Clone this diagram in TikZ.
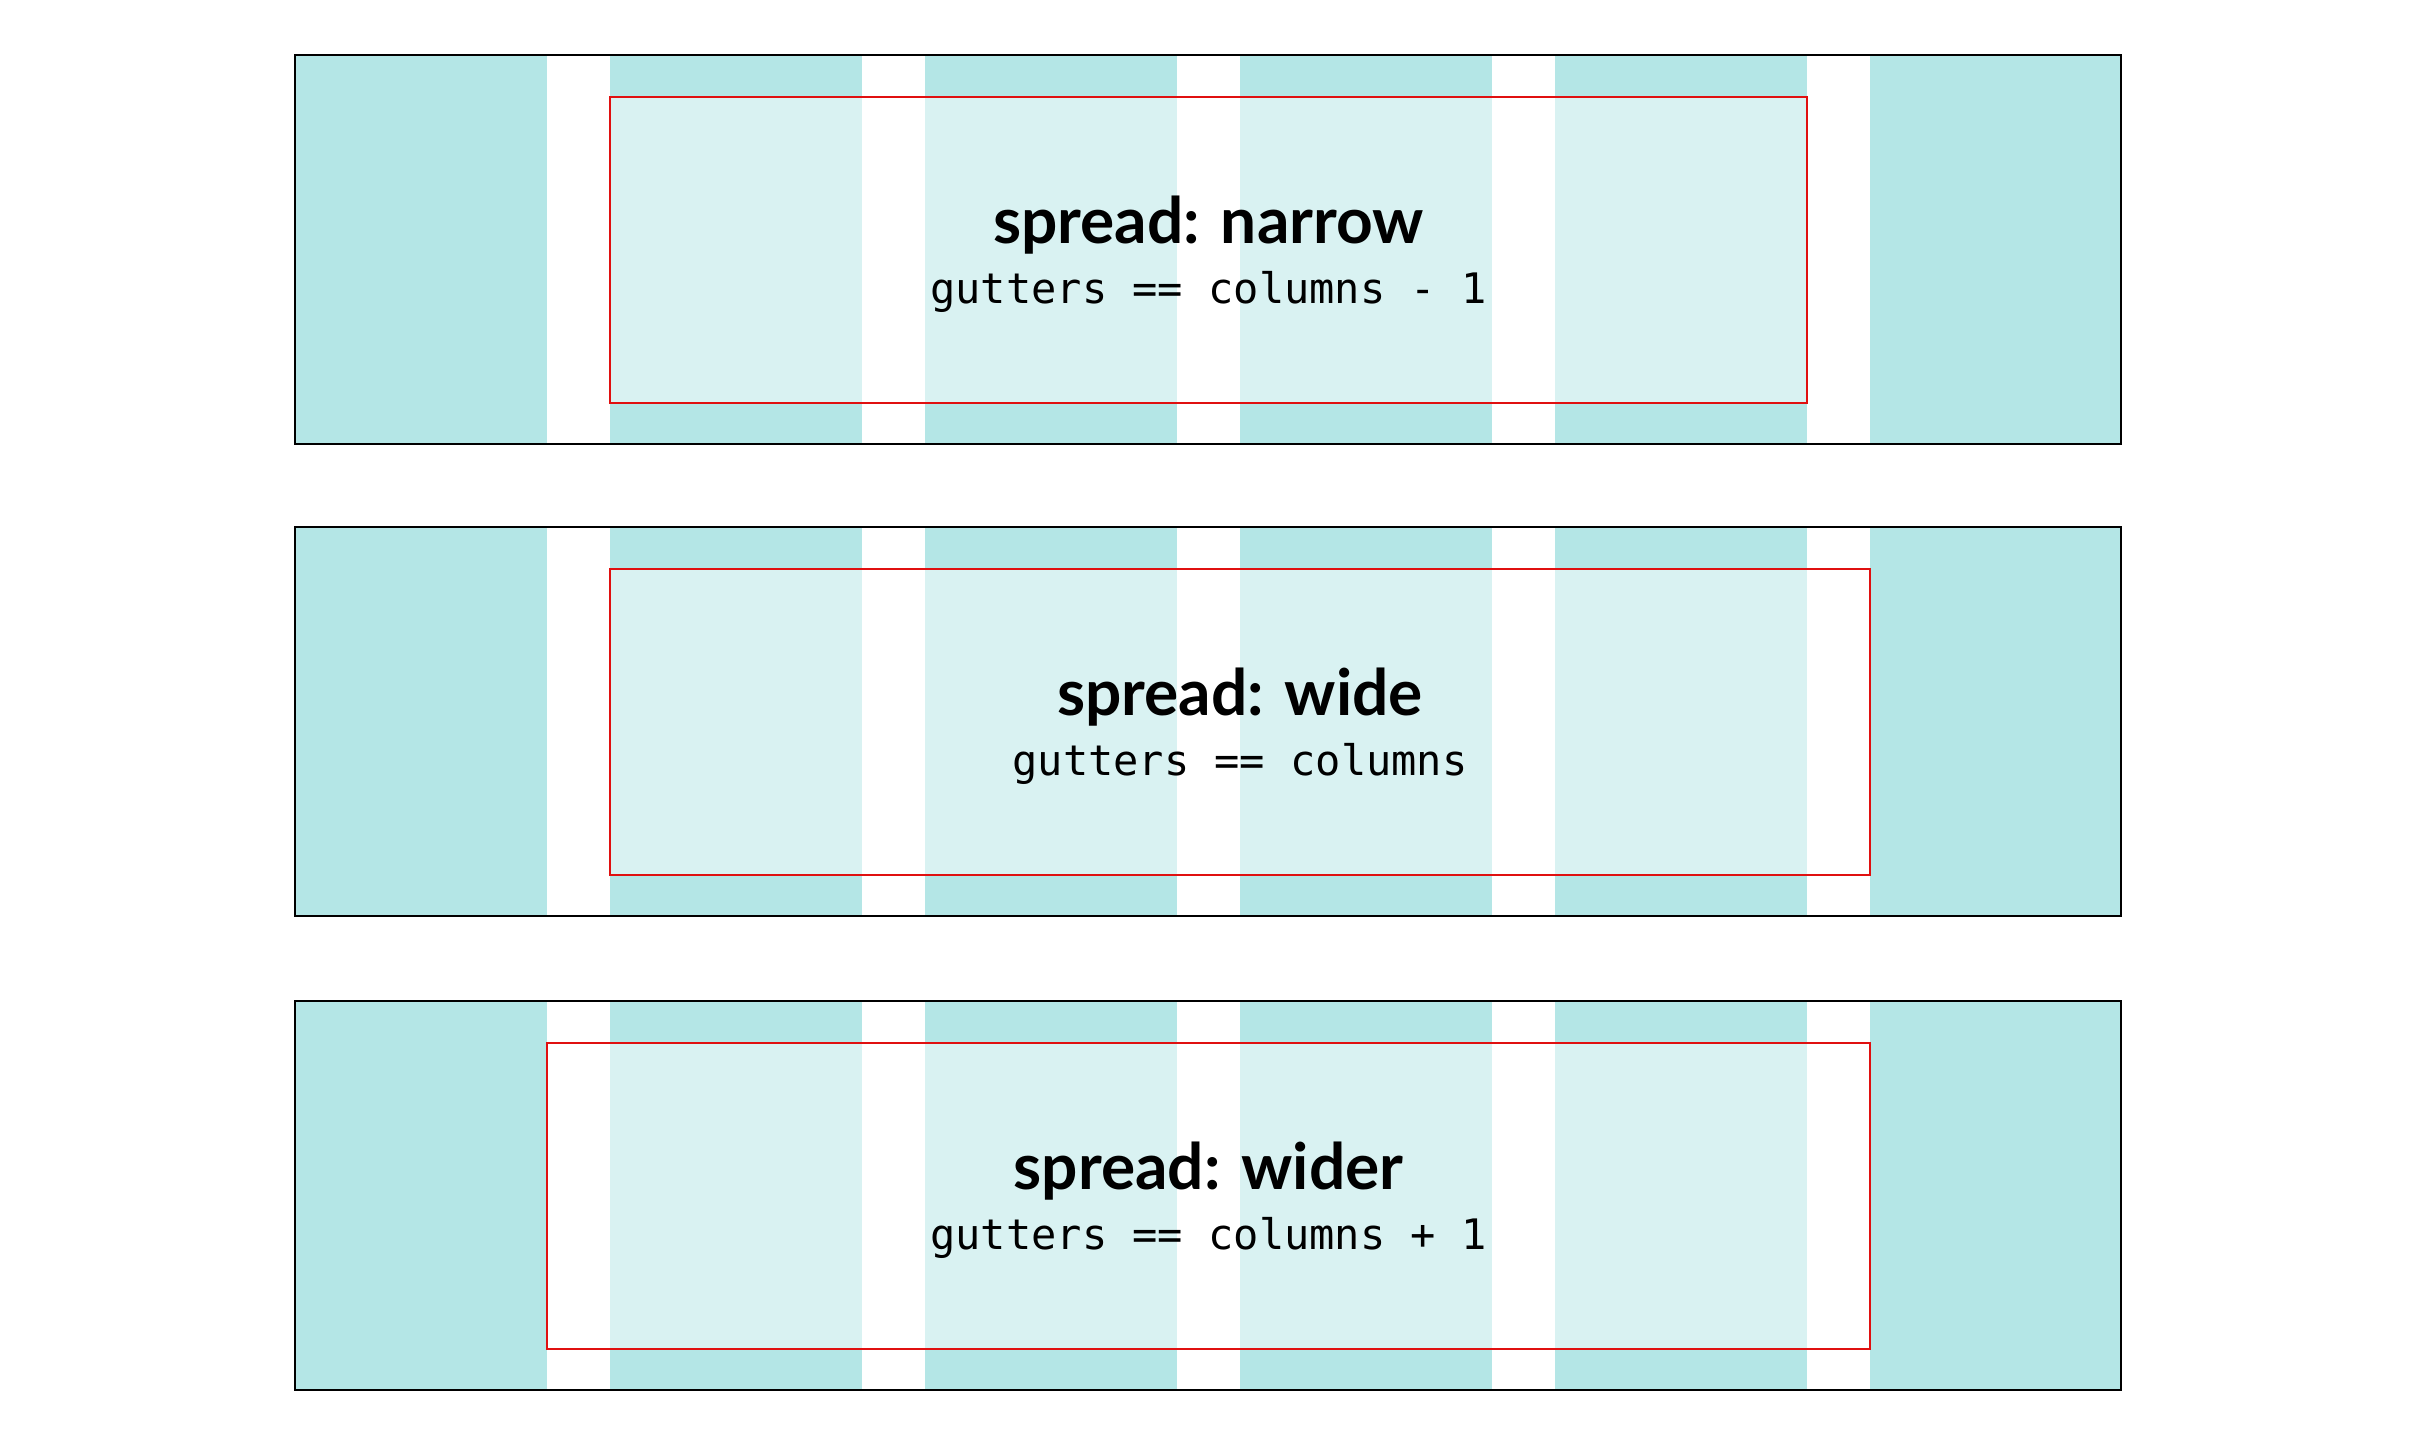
\documentclass[tikz,border=0pt]{standalone}
\usepackage{fontspec}
\setmainfont{Lato}
\setmonofont{DejaVu Sans Mono}
\usetikzlibrary{positioning}
\definecolor{gridcol}{RGB}{180,230,230}
\definecolor{spreadcol}{RGB}{224,16,16}

\begin{document}
\begin{tikzpicture}[x=1pt, y=-1pt]
    % Canvas
    \useasboundingbox (0,0) rectangle (2410,1452);

    % One panel per spread value
    \foreach \yo/\xa/\xb/\lbl/\eqn in {0/610/1807/narrow/{columns - 1},
                                       472/610/1870/wide/{columns},
                                       946/547/1870/wider/{columns + 1}} {
        \begin{scope}[shift={(0,\yo)}]
            % Margins
            \fill[gridcol] (295,55) rectangle (547,444);
            \fill[gridcol] (1870,55) rectangle (2121,444);

            % Columns
            \foreach \c in {0,...,3} {
                \fill[gridcol] (610+315*\c,55) rectangle (862+315*\c,444);
            }

            % Spread area
            \fill[white, opacity=0.5] (\xa,97) rectangle (\xb,403);
            \draw[spreadcol, line width=2pt] (\xa,97) rectangle (\xb,403);

            % Container
            \draw[line width=2pt] (295,55) rectangle (2121,444);

            % Labels
            \pgfmathsetmacro{\xm}{(\xa+\xb)/2}
            \node[anchor=base, inner sep=0pt, font=\fontsize{64}{64}\selectfont\bfseries]
                (title-\lbl) at (\xm,243) {spread: \lbl};
            \node[anchor=base, inner sep=0pt, font=\fontsize{42}{42}\selectfont\ttfamily]
                (rule-\lbl) at (\xm,303) {gutters == \eqn};
        \end{scope}
    }
\end{tikzpicture}
\end{document}
